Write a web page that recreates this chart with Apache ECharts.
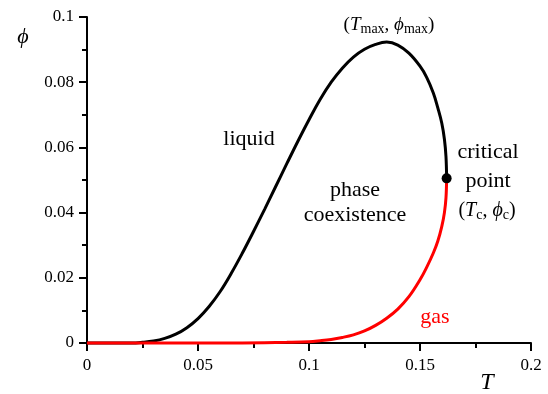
<!DOCTYPE html>
<html>
<head>
<meta charset="utf-8">
<script src="https://cdn.jsdelivr.net/npm/echarts@6/dist/echarts.min.js"></script>
<style>
  html, body { margin: 0; padding: 0; background: #fff; }
  #chart { width: 548px; height: 394px; }
</style>
</head>
<body>
<div id="chart"></div>
<script>
// liquid branch (black)
const liquidT = [0, 0.02, 0.025, 0.03, 0.035, 0.04, 0.045, 0.05, 0.055, 0.06, 0.065, 0.07, 0.075, 0.08,
  0.085, 0.09, 0.095, 0.1, 0.105, 0.11, 0.115, 0.12, 0.125, 0.13, 0.135, 0.14, 0.145, 0.15, 0.153,
  0.156, 0.158, 0.1598, 0.161, 0.1617, 0.162];
const liquidPhi = [0, 0, 0.0002, 0.0006, 0.0014, 0.0027, 0.0047, 0.0075, 0.0112, 0.0158, 0.0214, 0.0276,
  0.0342, 0.041, 0.048, 0.055, 0.0619, 0.0685, 0.0747, 0.08, 0.0843, 0.0877, 0.0901, 0.0916, 0.0923,
  0.0914, 0.0889, 0.0849, 0.0815, 0.0767, 0.0722, 0.0675, 0.0625, 0.0572, 0.0505];

// gas branch (red)
const gasT = [0, 0.06, 0.08, 0.09, 0.1, 0.105, 0.11, 0.115, 0.12, 0.125, 0.13, 0.135, 0.14, 0.145, 0.15,
  0.153, 0.156, 0.158, 0.1598, 0.161, 0.1617, 0.162];
const gasPhi = [0, 0, 0.0001, 0.0002, 0.0004, 0.0007, 0.0011, 0.0017, 0.0025, 0.0037, 0.0054, 0.0076,
  0.0104, 0.0142, 0.0194, 0.0232, 0.0276, 0.0312, 0.0357, 0.04, 0.0445, 0.0505];

const criticalPoint = [0.162, 0.0505];

const pair = (xs, ys) => xs.map((x, i) => [x, ys[i]]);

const serif = "'Liberation Serif', 'DejaVu Serif', serif";

let chart = echarts.init(document.getElementById('chart'));

let axisCommon = {
  type: 'value',
  axisLine: { show: true, lineStyle: { color: '#000', width: 2 } },
  axisTick: { show: true, inside: false, length: 8, lineStyle: { color: '#000', width: 2 } },
  minorTick: { show: true, splitNumber: 2, length: 5, lineStyle: { color: '#000', width: 2 } },
  splitLine: { show: false },
  axisLabel: { color: '#000', fontFamily: serif, fontSize: 17 }
};

let option = {
  animation: false,
  backgroundColor: '#fff',
  grid: { left: 87, right: 17, top: 17, bottom: 51 },
  xAxis: Object.assign({}, axisCommon, {
    min: 0, max: 0.2, interval: 0.05,
    axisLabel: Object.assign({}, axisCommon.axisLabel, { margin: 14 })
  }),
  yAxis: Object.assign({}, axisCommon, {
    min: 0, max: 0.1, interval: 0.02,
    axisLabel: Object.assign({}, axisCommon.axisLabel, { margin: 13 })
  }),
  series: [
    {
      name: 'liquid',
      type: 'line',
      data: pair(liquidT, liquidPhi),
      showSymbol: false,
      smooth: 0.4,
      clip: false,
      lineStyle: { color: '#000', width: 3 },
      z: 2
    },
    {
      name: 'gas',
      type: 'line',
      data: pair(gasT, gasPhi),
      showSymbol: false,
      smooth: 0.4,
      clip: false,
      lineStyle: { color: '#ff0000', width: 3 },
      z: 3
    },
    {
      name: 'critical point',
      type: 'scatter',
      data: [criticalPoint],
      symbolSize: 10,
      itemStyle: { color: '#000', opacity: 1 },
      z: 4
    }
  ],
  graphic: [
    { type: 'text', x: 23, y: 37, style: { text: 'ϕ', font: 'italic 22px ' + serif, fill: '#000', align: 'center', verticalAlign: 'middle' } },
    { type: 'text', x: 487, y: 383, style: { text: 'T', font: 'italic 24px ' + serif, fill: '#000', align: 'center', verticalAlign: 'middle' } },
    { type: 'text', x: 249, y: 139, style: { text: 'liquid', font: '22px ' + serif, fill: '#000', align: 'center', verticalAlign: 'middle' } },
    { type: 'text', x: 355, y: 190, style: { text: 'phase', font: '22px ' + serif, fill: '#000', align: 'center', verticalAlign: 'middle' } },
    { type: 'text', x: 355, y: 215, style: { text: 'coexistence', font: '22px ' + serif, fill: '#000', align: 'center', verticalAlign: 'middle' } },
    { type: 'text', x: 488, y: 152, style: { text: 'critical', font: '22px ' + serif, fill: '#000', align: 'center', verticalAlign: 'middle' } },
    { type: 'text', x: 488, y: 181, style: { text: 'point', font: '22px ' + serif, fill: '#000', align: 'center', verticalAlign: 'middle' } },
    { type: 'text', x: 435, y: 317, style: { text: 'gas', font: '22px ' + serif, fill: '#ff0000', align: 'center', verticalAlign: 'middle' } },
    {
      type: 'text', x: 487, y: 211,
      style: {
        text: '({i|T}{s|c}, {i|ϕ}{s|c})',
        font: '20px ' + serif, fill: '#000', align: 'center', verticalAlign: 'middle',
        rich: {
          i: { fontStyle: 'italic', fontSize: 20, fontFamily: serif, fill: '#000' },
          s: { fontSize: 14, fontFamily: serif, fill: '#000', verticalAlign: 'bottom', padding: [9, 0, 0, 0] }
        }
      }
    },
    {
      type: 'text', x: 389, y: 25,
      style: {
        text: '({i|T}{s|max}, {i|ϕ}{s|max})',
        font: '19px ' + serif, fill: '#000', align: 'center', verticalAlign: 'middle',
        rich: {
          i: { fontStyle: 'italic', fontSize: 19, fontFamily: serif, fill: '#000' },
          s: { fontSize: 14, fontFamily: serif, fill: '#000', verticalAlign: 'bottom', padding: [9, 0, 0, 0] }
        }
      }
    }
  ]
};

chart.setOption(option);
</script>
</body>
</html>
